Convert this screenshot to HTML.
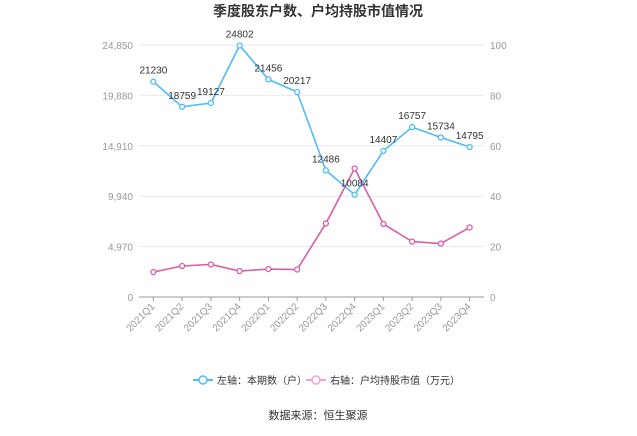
<!DOCTYPE html>
<html><head><meta charset="utf-8"><style>
body{margin:0;background:#fff;font-family:"Liberation Sans","Noto Sans CJK SC",sans-serif}
</style></head><body>
<svg width="637" height="431" xmlns="http://www.w3.org/2000/svg" id="c" font-family="Liberation Sans, Noto Sans CJK SC, sans-serif">
<text x="318" y="16" text-anchor="middle" font-size="14" font-weight="bold" fill="#333">季度股东户数、户均持股市值情况</text>
<g id="grid"></g><g id="axes"></g><g id="series"></g>
<g>
<g><line x1="193" y1="380" x2="213" y2="380" stroke="#4fbdf6" stroke-width="2"/><circle cx="203" cy="380" r="4" fill="#fff" stroke="#4fbdf6" stroke-width="1.5"/><text x="217" y="384" font-size="10" fill="#333">左轴：本期数（户）</text></g>
<g><line x1="306" y1="380" x2="326" y2="380" stroke="#f0a3cf" stroke-width="2"/><circle cx="316" cy="380" r="4" fill="#fff" stroke="#f0a3cf" stroke-width="1.5"/><text x="330" y="384" font-size="10" fill="#333">右轴：户均持股市值（万元）</text></g>
</g>
<text x="318" y="419" text-anchor="middle" font-size="11" fill="#333">数据来源：恒生聚源</text>
</svg>
<script>
const categories=["2021Q1","2021Q2","2021Q3","2021Q4","2022Q1","2022Q2","2022Q3","2022Q4","2023Q1","2023Q2","2023Q3","2023Q4"];
const holders=[21230,18759,19127,24802,21456,20217,12486,10084,14407,16757,15734,14795];
const avgValue=[9.9,12.3,12.9,10.3,11.1,10.9,29.2,51.0,29.0,22.0,21.2,27.6];
const leftTicks=[0,4970,9940,14910,19880,24850];
const rightTicks=[0,20,40,60,80,100];
const NS="http://www.w3.org/2000/svg";
const x0=139,x1=484,yB=297,yT=45;
const bw=(x1-x0)/categories.length;
const xs=i=>x0+bw*(i+0.5);
const yl=v=>yB-(v/24850)*(yB-yT);
const yr=v=>yB-(v/100)*(yB-yT);
function mk(t,a,p){const e=document.createElementNS(NS,t);for(const k in a)e.setAttribute(k,a[k]);p.appendChild(e);return e;}
const grid=document.getElementById('grid'),axes=document.getElementById('axes'),ser=document.getElementById('series');
leftTicks.forEach((v,i)=>{
 const y=yl(v);
 if(v>0){const l=mk('line',{x1:x0,x2:x1,y1:y,y2:y,stroke:'#e6e8f4','stroke-width':1},grid);
 
 }
 const t=mk('text',{x:x0-6,y:y+4,'text-anchor':'end','font-size':10,fill:'#999'},axes);t.textContent=v.toLocaleString('en-US');
 
 
});
rightTicks.forEach(v=>{
 const t=mk('text',{x:x1+6,y:yr(v)+4,'font-size':10,fill:'#999'},axes);t.textContent=v;
 
 
});
const ax=mk('line',{x1:x0,x2:x1,y1:yB,y2:yB,stroke:'#999'},axes);


categories.forEach((c,i)=>{
 const x=xs(i);
 mk('line',{x1:x,x2:x,y1:yB,y2:yB+4,stroke:'#999'},axes);
 const t=mk('text',{x:x+2,y:yB+10,'text-anchor':'end','font-size':10,fill:'#999',transform:`rotate(-45 ${x+2} ${yB+10})`},axes);t.textContent=c;
 
 
});
function series(vals,yf,color,name,labels){
 const p=mk('polyline',{points:vals.map((v,i)=>xs(i)+','+yf(v)).join(' '),fill:'none',stroke:color,'stroke-width':1.6},ser);
 
 
 vals.forEach((v,i)=>{
  const c=mk('circle',{cx:xs(i),cy:yf(v),r:2.5,fill:'#fff',stroke:color,'stroke-width':1.3},ser);
  
  
  if(labels){const t=mk('text',{x:xs(i),y:yf(v)-8,'text-anchor':'middle','font-size':10,fill:'#333'},ser);t.textContent=v;
  
  }
 });
}
series(avgValue,yr,'#d95fa8','avg-value',false);
series(holders,yl,'#4fbdf6','holders',true);
</script>
</body></html>
